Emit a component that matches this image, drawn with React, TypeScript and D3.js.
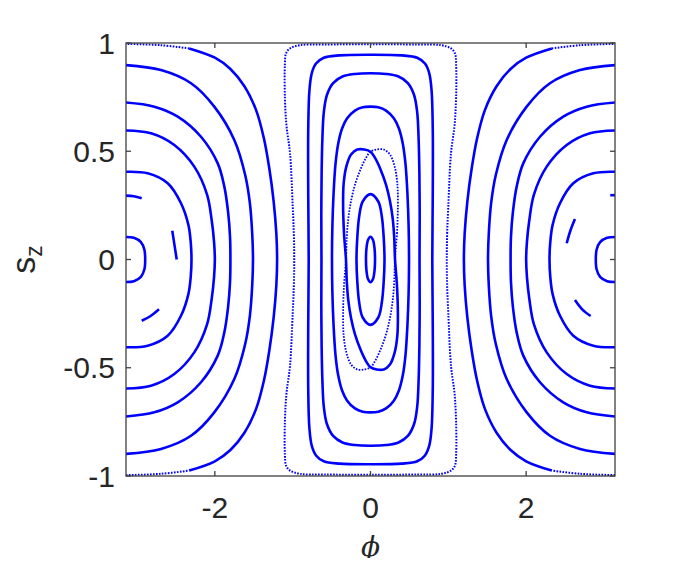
import React from 'react';
import * as d3 from 'd3';

const width = 680;
const height = 566;
const plot = { left: 126, right: 615, top: 43, bottom: 476 };

const xTicks = [-2, 0, 2];
const yTicks = [-1, -0.5, 0, 0.5, 1];

const PI = Math.PI;

// orbits round phi = ±pi: upper quarter seen on the right side,
// listed from the s_z = 0 crossing out to the edge phi = pi
const piOrbit1 = [[2.895, 0], [2.905, 0.045], [2.95, 0.08], [3.04, 0.1], [PI, 0.104]];
const piOrbit3 = [[2.3, 0], [2.31, 0.08], [2.34, 0.16], [2.435, 0.26], [2.606, 0.352], [2.863, 0.398], [PI, 0.405]];
const piOrbit4 = [[2.0, 0], [2.01, 0.08], [2.04, 0.18], [2.1, 0.3], [2.264, 0.429], [2.521, 0.529], [2.82, 0.583], [PI, 0.596]];
const piOrbit5 = [[1.8, 0], [1.805, 0.105], [1.83, 0.22], [1.88, 0.34], [1.963, 0.444], [2.178, 0.567], [2.477, 0.66], [2.778, 0.706], [PI, 0.725]];
const piOrbit6 = [[1.51, 0], [1.52, 0.12], [1.55, 0.26], [1.61, 0.39], [1.75, 0.552], [2.007, 0.706], [2.306, 0.814], [2.692, 0.875], [PI, 0.898]];
const piOrbit7 = [[1.2, 0], [1.21, 0.12], [1.245, 0.27], [1.3, 0.42], [1.37, 0.56], [1.47, 0.69], [1.62, 0.8], [1.8, 0.88], [2.0, 0.932], [2.33, 0.975], [2.7, 0.99], [PI, 0.996]];

// pieces of the orbit that was only partly traced
const piFragments = [
  [[-PI, 0.295], [-3.04, 0.292], [-2.94, 0.283]],
  [[-2.547, 0.133], [-2.52, 0.07], [-2.49, 0.0]],
  [[-2.94, -0.283], [-2.83, -0.262], [-2.717, -0.23]],
  [[3.08, 0.297], [PI, 0.297]],
  [[2.627, 0.187], [2.57, 0.135], [2.521, 0.075]],
  [[2.627, -0.187], [2.72, -0.23], [2.829, -0.261]],
];

// orbits round phi = 0: upper-right quarter, from the s_z = 0 crossing to the top
const zeroOrbit1 = [[0.058, 0], [0.052, 0.05], [0.032, 0.09], [0, 0.105]];
const zeroOrbit2 = [[0.18, 0], [0.17, 0.1], [0.145, 0.2], [0.1, 0.268], [0, 0.302]];
const zeroOrbitD = [[0.495, 0], [0.49, 0.15], [0.475, 0.3], [0.45, 0.44], [0.415, 0.535], [0.365, 0.605], [0.3, 0.652], [0.2, 0.688], [0.1, 0.703], [0, 0.706]];
const zeroOrbitC = [[0.63, 0], [0.632, 0.2], [0.628, 0.4], [0.618, 0.56], [0.6, 0.68], [0.56, 0.76], [0.48, 0.815], [0.36, 0.845], [0.2, 0.857], [0, 0.86]];
const zeroOrbitB = [[0.794, 0], [0.8, 0.3], [0.8, 0.6], [0.785, 0.78], [0.755, 0.86], [0.7, 0.905], [0.6, 0.932], [0.4, 0.943], [0, 0.946]];
const zeroOrbitA = [[0.98, 0], [0.985, 0.12], [1.0, 0.25], [1.034, 0.49], [1.08, 0.62], [1.1, 0.75], [1.1, 0.9], [1.085, 0.952], [1.034, 0.975], [0.906, 0.99], [0.6, 0.993], [0, 0.994]];

// the tilted lens through (0, ±0.5), upper half from left to right
const lensUpper = [[-0.315, 0], [-0.34, 0.12], [-0.352, 0.25], [-0.345, 0.35], [-0.31, 0.43], [-0.25, 0.485], [-0.17, 0.508], [-0.08, 0.508], [0, 0.498], [0.06, 0.468], [0.13, 0.415], [0.2, 0.345], [0.25, 0.27], [0.285, 0.19], [0.305, 0.1], [0.315, 0]];

const x = d3.scaleLinear().domain([-PI, PI]).range([plot.left, plot.right]);
const y = d3.scaleLinear().domain([-1, 1]).range([plot.bottom, plot.top]);

const openLine = d3.line().x(d => x(d[0])).y(d => y(d[1])).curve(d3.curveCatmullRom.alpha(0.5));
const closedLine = d3.line().x(d => x(d[0])).y(d => y(d[1])).curve(d3.curveCatmullRomClosed.alpha(0.5));

const loopFromQuarter = q => [
  ...q,
  ...q.slice(0, -1).reverse().map(([p, s]) => [-p, s]),
  ...q.slice(1).map(([p, s]) => [-p, -s]),
  ...q.slice(1, -1).reverse().map(([p, s]) => [p, -s]),
];

const sideFromQuarter = (q, sign) =>
  [...q.slice(1).reverse().map(([p, s]) => [p, -s]), ...q].map(([p, s]) => [sign * p, s]);

const lensLoop = [...lensUpper, ...lensUpper.slice(1, -1).map(([p, s]) => [-p, -s])];

const blue = '#0000ff';
const axisColor = '#404040';
const font = '"Liberation Sans", Arial, Helvetica, sans-serif';

const solid = { stroke: blue, strokeWidth: 2.6, fill: 'none' };
const dotted = { stroke: blue, strokeWidth: 2, fill: 'none', strokeDasharray: '1.6 1.4' };

// split a path into the dense middle and the sparse ends near |s_z| = 1
const splitSparse = (pts, limit) => {
  const mid = pts.filter(d => Math.abs(d[1]) <= limit);
  const i0 = pts.indexOf(mid[0]);
  const i1 = pts.indexOf(mid[mid.length - 1]);
  return { mid, ends: [pts.slice(0, i0 + 1), pts.slice(i1)] };
};

export default function App() {
  const piSolid = [piOrbit1, piOrbit3, piOrbit4, piOrbit5, piOrbit6];
  const zeroSolid = [zeroOrbit1, zeroOrbit2, zeroOrbitD, zeroOrbitC, zeroOrbitB];

  return (
    <svg width={width} height={height} style={{ display: 'block', margin: '-8px' }}>
      <defs>
        <clipPath id="plotArea">
          <rect x={plot.left} y={plot.top} width={plot.right - plot.left} height={plot.bottom - plot.top} />
        </clipPath>
      </defs>
      <rect width={width} height={height} fill="#fff" />

      <g clipPath="url(#plotArea)">
        {piSolid.map((q, i) =>
          [1, -1].map(sign => <path key={`p${i}${sign}`} d={openLine(sideFromQuarter(q, sign))} {...solid} />)
        )}
        {[1, -1].map(sign => {
          const parts = splitSparse(sideFromQuarter(piOrbit7, sign), 0.976);
          return (
            <g key={`p7${sign}`}>
              <path d={openLine(parts.mid)} {...solid} />
              {parts.ends.map((e, j) => <path key={j} d={openLine(e)} {...dotted} />)}
            </g>
          );
        })}
        {piFragments.map((f, i) => <path key={`f${i}`} d={openLine(f)} {...solid} />)}

        {zeroSolid.map((q, i) => <path key={`z${i}`} d={closedLine(loopFromQuarter(q))} {...solid} />)}
        <path d={closedLine(loopFromQuarter(zeroOrbitA))} {...dotted} />
        <path d={closedLine(lensLoop)} {...solid} />
        <path d={closedLine(lensLoop.map(([p, s]) => [-p, s]))} {...dotted} strokeWidth={1.8} />
      </g>

      <rect x={plot.left} y={plot.top} width={plot.right - plot.left} height={plot.bottom - plot.top}
        fill="none" stroke={axisColor} strokeWidth={1.3} />
      {xTicks.map(t => (
        <g key={`xt${t}`}>
          <line x1={x(t)} x2={x(t)} y1={plot.bottom} y2={plot.bottom - 5} stroke={axisColor} strokeWidth={1.3} />
          <line x1={x(t)} x2={x(t)} y1={plot.top} y2={plot.top + 5} stroke={axisColor} strokeWidth={1.3} />
          <text x={x(t)} y={plot.bottom + 42} textAnchor="middle" fontFamily={font} fontSize={30} fill="#262626">
            {t}
          </text>
        </g>
      ))}
      {yTicks.map(t => (
        <g key={`yt${t}`}>
          <line x1={plot.left} x2={plot.left + 5} y1={y(t)} y2={y(t)} stroke={axisColor} strokeWidth={1.3} />
          <line x1={plot.right} x2={plot.right - 5} y1={y(t)} y2={y(t)} stroke={axisColor} strokeWidth={1.3} />
          <text x={plot.left - 11} y={y(t) + 10.7} textAnchor="end" fontFamily={font} fontSize={30} fill="#262626">
            {t}
          </text>
        </g>
      ))}

      <text x={(plot.left + plot.right) / 2} y={556} textAnchor="middle" fontFamily='"DejaVu Serif", serif'
        fontStyle="italic" fontSize={28} fill="#262626">
        ϕ
      </text>
      <text transform={`translate(${35},${(plot.top + plot.bottom) / 2}) rotate(-90)`} textAnchor="middle"
        fontFamily={font} fontSize={34} fill="#262626">
        s<tspan fontSize={23} dy={7}>z</tspan>
      </text>
    </svg>
  );
}
